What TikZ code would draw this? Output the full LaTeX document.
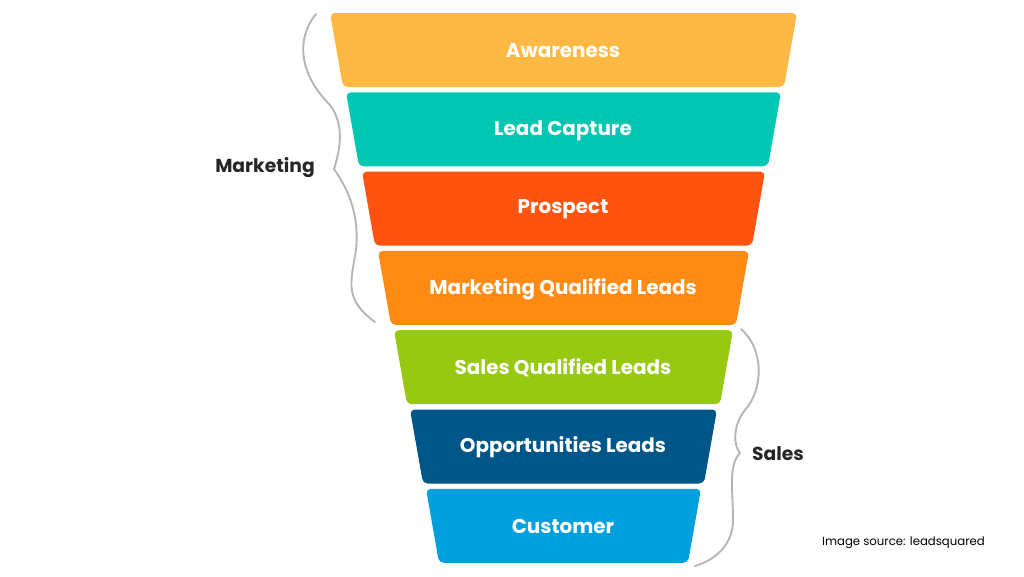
\documentclass[tikz,border=0pt]{standalone}
\usepackage{fontspec}
\setmainfont{Poppins}
\usetikzlibrary{positioning}
\definecolor{cAware}{HTML}{FDB944}
\definecolor{cCapture}{HTML}{00C7B1}
\definecolor{cProspect}{HTML}{FF5310}
\definecolor{cMql}{HTML}{FF8A14}
\definecolor{cSql}{HTML}{96C90F}
\definecolor{cOpp}{HTML}{005689}
\definecolor{cCust}{HTML}{00A0DC}
\definecolor{brace}{HTML}{B4B4B4}
\begin{document}
\begin{tikzpicture}[
    x=0.03cm, y=-0.03cm,
    stage/.style={
        rounded corners=4pt,
        draw=none
    },
    stagetext/.style={
        text=white,
        font=\fontsize{17}{20}\selectfont\bfseries
    },
    side/.style={
        text=black!85,
        font=\fontsize{16}{19}\selectfont\bfseries
    },
    bracket/.style={
        draw=brace,
        line width=1.6pt,
        line cap=round
    }
]
    \useasboundingbox (0,0) rectangle (1024,576);

    % Funnel stages
    \foreach \i/\col/\name/\txt in {0/cAware/aware/Awareness,
        1/cCapture/capture/Lead Capture,
        2/cProspect/prospect/Prospect,
        3/cMql/mql/Marketing Qualified Leads,
        4/cSql/sql/Sales Qualified Leads,
        5/cOpp/opp/Opportunities Leads,
        6/cCust/cust/Customer}{
        \pgfmathsetmacro{\yt}{13+79.3*\i}
        \pgfmathsetmacro{\yb}{\yt+74}
        \fill[stage, fill=\col] (330+16*\i,\yt) -- (797-16*\i,\yt)
            -- (784-16*\i,\yb) -- (343+16*\i,\yb) -- cycle;
        \node[stagetext] (\name) at (563,\yt+38) {\txt};
    }

    % Braces
    \coordinate (m1) at (316,14);
    \coordinate (mtip) at (334,169);
    \coordinate (m2) at (375,322);
    \draw[bracket] (m1) .. controls (295,40) and (300,75) .. (330,105)
        .. controls (345,125) and (340,150) .. (mtip)
        .. controls (345,185) and (360,210) .. (356,250)
        .. controls (350,285) and (345,300) .. (m2);
    \node[side, anchor=east] (marketing) at (319,168) {Marketing};

    \coordinate (s1) at (741,329);
    \coordinate (stip) at (740,453);
    \coordinate (s2) at (695,566);
    \draw[bracket] (s1) .. controls (765,350) and (763,390) .. (745,410)
        .. controls (733,425) and (733,445) .. (stip)
        .. controls (728,465) and (733,490) .. (733,520)
        .. controls (733,545) and (715,560) .. (s2);
    \node[side, anchor=west] (sales) at (748,454) {Sales};

    \node[anchor=east, font=\fontsize{10}{12}\selectfont] (source) at (989,543) {Image source: leadsquared};
\end{tikzpicture}
\end{document}
